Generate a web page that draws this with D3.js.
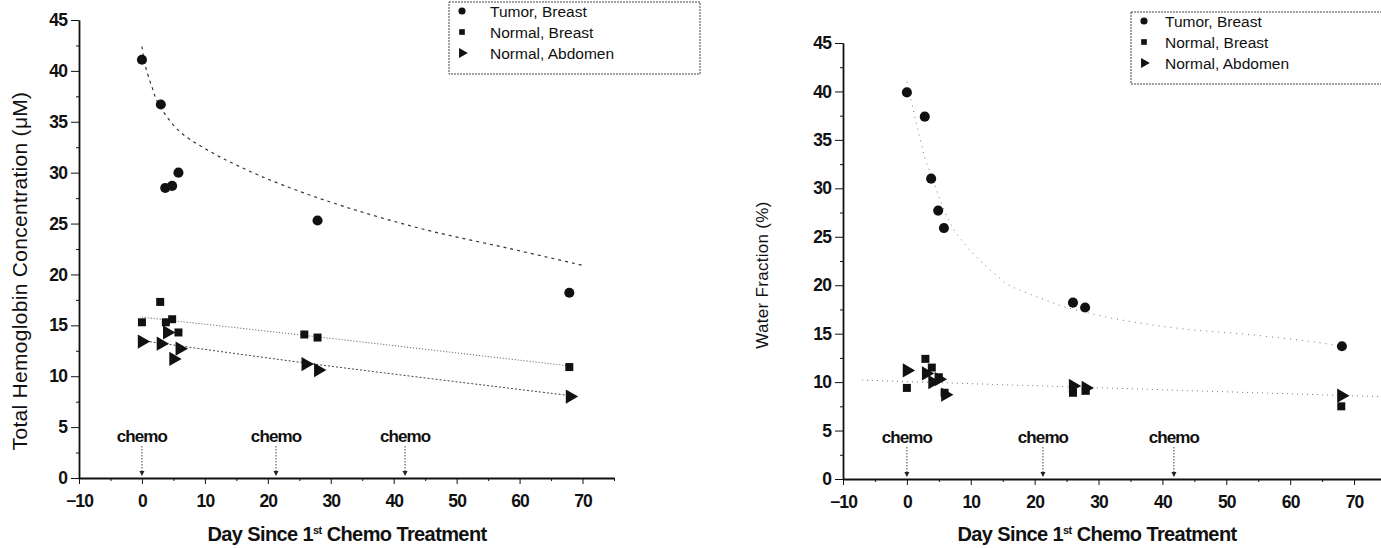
<!DOCTYPE html>
<head>
  <meta charset="utf-8">
  <script src="https://d3js.org/d3.v7.min.js"></script>
  <style>
    body { margin:0; background:#fff; }
    text { font-family: "Liberation Sans", Arial, sans-serif; fill:#111; }
  </style>
</head>

<body>
  <script>
    var width = 1381,
        height = 548;

    // series names
    var seriesNames = ['Tumor, Breast', 'Normal, Breast', 'Normal, Abdomen'];

    // left panel: total hemoglobin (uM)
    var hbDays = {
      tumor:   [0, 3, 3.7, 4.8, 5.8, 27.9, 67.9],
      breast:  [0, 2.9, 3.8, 4.8, 5.8, 25.8, 27.9, 67.9],
      abdomen: [0, 3, 4, 5, 6, 26, 28, 68]
    };
    var hbValues = {
      tumor:   [41.1, 36.7, 28.5, 28.7, 30.0, 25.3, 18.2],
      breast:  [15.3, 17.3, 15.3, 15.6, 14.3, 14.1, 13.8, 10.9],
      abdomen: [13.4, 13.2, 14.3, 11.7, 12.7, 11.2, 10.6, 8.0]
    };
    // fitted trend curves [day, value]
    var hbFitTumor   = [[0,42.4],[0.5,40.6],[1.6,38.4],[2.6,36.8],[5.9,34.1],[10.2,32.3],[15.5,30.6],[22.3,28.8],[32.5,26.6],[45,24.4],[58,22.6],[70,20.9]];
    var hbFitBreast  = [[0,15.8],[26,14.0],[68,11.0]];
    var hbFitAbdomen = [[0,13.5],[26,11.3],[68,8.1]];

    // right panel: water fraction (%)
    var waterDays = {
      tumor:   [0, 2.8, 3.8, 4.9, 5.8, 26, 27.9, 68.1],
      breast:  [0, 2.9, 3.9, 5, 5.9, 26, 28, 68],
      abdomen: [0, 3, 4, 5, 6, 26, 28, 68]
    };
    var waterValues = {
      tumor:   [39.9, 37.4, 31.0, 27.7, 25.9, 18.2, 17.7, 13.7],
      breast:  [9.4, 12.4, 11.5, 10.5, 8.9, 8.9, 9.1, 7.5],
      abdomen: [11.2, 10.9, 10.0, 10.3, 8.7, 9.6, 9.4, 8.6]
    };
    var waterFitTumor  = [[0,41],[1,38.1],[2,35.3],[2.8,33.2],[3.8,31.4],[5.2,28.8],[7.2,25.9],[10.6,23.1],[14.6,20.7],[16,20.0],[22.4,18.3],[25,17.7],[32.9,16.5],[43.2,15.5],[53.7,14.9],[64.2,14.1],[68,13.7]];
    var waterFitNormal = [[-7,10.2],[26,9.5],[74,8.5]];

    // chemo treatment days
    var chemoDays = [0, 21.3, 41.8];

    var xMajor = [-10, 0, 10, 20, 30, 40, 50, 60, 70];
    var xMinor = [-5, 5, 15, 25, 35, 45, 55, 65, 75];
    var yMajor = [0, 5, 10, 15, 20, 25, 30, 35, 40, 45];
    var yMinor = [2.5, 7.5, 12.5, 17.5, 22.5, 27.5, 32.5, 37.5, 42.5];

    var svg = d3.select("body").append("svg")
      .attr("width", width)
      .attr("height", height);

    function zip(xs, ys) {
      return xs.map(function(x, i) { return [x, ys[i]]; });
    }

    var symbols = [d3.symbolCircle, d3.symbolSquare, d3.symbolTriangle];
    var symSize = [80, 64, 88];

    function marker(g, k, x, y, scale) {
      var s = scale || 1;
      g.append('path')
        .attr('d', d3.symbol().type(symbols[k]).size(symSize[k] * s)())
        .attr('transform', 'translate(' + x + ',' + y + ')' + (k == 2 ? ' rotate(90)' : ''))
        .attr('fill', '#111');
    }

    function panel(cfg) {
      var x = d3.scaleLinear().domain([-10, 75]).range(cfg.xr);
      var y = d3.scaleLinear().domain([0, 45]).range(cfg.yr);
      var g = svg.append('g');

      // axes
      var tickFont = function(sel) {
        sel.selectAll('text')
          .style('font-size', '17.5px')
          .style('font-weight', 'bold')
          .style('letter-spacing', '-0.9px')
          .attr('fill', '#111');
        sel.selectAll('line, path').attr('stroke', '#111');
      };
      g.append('g')
        .attr('transform', 'translate(0,' + cfg.yr[0] + ')')
        .call(d3.axisBottom(x).tickValues(xMinor).tickSize(3).tickSizeOuter(0).tickFormat(''))
        .call(tickFont);
      g.append('g')
        .attr('transform', 'translate(0,' + cfg.yr[0] + ')')
        .call(d3.axisBottom(x).tickValues(xMajor).tickSize(6).tickSizeOuter(0).tickPadding(11))
        .call(tickFont)
        .select('.domain').attr('stroke-width', 1.8);
      g.append('g')
        .attr('transform', 'translate(' + cfg.xr[0] + ',0)')
        .call(d3.axisLeft(y).tickValues(yMinor).tickSize(3).tickSizeOuter(0).tickFormat(''))
        .call(tickFont);
      g.append('g')
        .attr('transform', 'translate(' + cfg.xr[0] + ',0)')
        .call(d3.axisLeft(y).tickValues(yMajor).tickSize(8).tickSizeOuter(0).tickPadding(4))
        .call(tickFont)
        .select('.domain').attr('stroke-width', 1.8);

      // trend curves
      var line = d3.line().curve(d3.curveCatmullRom.alpha(0.5))
        .x(function(d) { return x(d[0]); })
        .y(function(d) { return y(d[1]); });
      cfg.fits.forEach(function(f) {
        g.append('path')
          .attr('d', line(f.pts))
          .attr('fill', 'none')
          .attr('stroke', f.color)
          .attr('stroke-width', f.w)
          .attr('stroke-dasharray', f.dash);
      });

      // points
      cfg.series.forEach(function(s, k) {
        s.forEach(function(d) { marker(g, k, x(d[0]), y(d[1])); });
      });

      // chemo markers
      chemoDays.forEach(function(day) {
        var cx = x(day);
        g.append('line')
          .attr('x1', cx).attr('x2', cx)
          .attr('y1', cfg.yr[0] - 32).attr('y2', cfg.yr[0] - 3)
          .attr('stroke', '#444').attr('stroke-width', 1)
          .attr('stroke-dasharray', '1.5,1.5');
        g.append('path')
          .attr('d', 'M' + (cx - 2.5) + ',' + (cfg.yr[0] - 7) + 'L' + (cx + 2.5) + ',' + (cfg.yr[0] - 7) + 'L' + cx + ',' + (cfg.yr[0] - 2) + 'Z')
          .attr('fill', '#222');
        g.append('text')
          .attr('x', cx).attr('y', cfg.yr[0] - 36)
          .attr('text-anchor', 'middle')
          .style('font-size', '17px')
          .style('font-weight', 'bold')
          .style('letter-spacing', '-0.9px')
          .text('chemo');
      });

      // axis titles
      g.append('text')
        .attr('transform', 'translate(' + cfg.ytx + ',' + cfg.yty + ') rotate(-90)')
        .attr('text-anchor', 'middle')
        .style('font-size', cfg.yfs)
        .style('letter-spacing', '0.3px')
        .text(cfg.ytitle);
      var xt = g.append('text')
        .attr('x', cfg.xtx).attr('y', 541)
        .attr('text-anchor', 'middle')
        .style('font-size', '20px')
        .style('font-weight', 'bold')
        .style('letter-spacing', '-0.6px');
      xt.append('tspan').text('Day Since 1');
      xt.append('tspan').attr('dy', -7).style('font-size', '11px').text('st');
      xt.append('tspan').attr('dy', 7).text(' Chemo Treatment');

      // legend
      var lg = g.append('g').attr('transform', 'translate(' + cfg.lx + ',' + cfg.ly + ')');
      lg.append('rect')
        .attr('x', 0).attr('y', 0).attr('width', cfg.lw).attr('height', 72)
        .attr('fill', 'none').attr('stroke', '#444').attr('stroke-width', 1)
        .attr('stroke-dasharray', '2,1');
      seriesNames.forEach(function(name, k) {
        marker(lg, k, 13, 9 + k * 21, 0.5);
        lg.append('text')
          .attr('x', cfg.ltx).attr('y', 15 + k * 21)
          .style('font-size', '15.5px')
          .text(name);
      });
    }

    panel({
      xr: [79, 614], yr: [478, 20],
      series: [zip(hbDays.tumor, hbValues.tumor), zip(hbDays.breast, hbValues.breast), zip(hbDays.abdomen, hbValues.abdomen)],
      fits: [
        { pts: hbFitTumor, color: '#333', w: 1.2, dash: '3,4' },
        { pts: hbFitBreast, color: '#555', w: 1, dash: '1,2' },
        { pts: hbFitAbdomen, color: '#444', w: 1, dash: '2,2' }
      ],
      ytitle: 'Total Hemoglobin Concentration (\u03bcM)', ytx: 27, yty: 271, yfs: '21px',
      xtx: 347,
      lx: 449, ly: 2, lw: 251, ltx: 41
    });

    panel({
      xr: [843, 1386], yr: [479, 43],
      series: [zip(waterDays.tumor, waterValues.tumor), zip(waterDays.breast, waterValues.breast), zip(waterDays.abdomen, waterValues.abdomen)],
      fits: [
        { pts: waterFitTumor, color: '#777', w: 1, dash: '1,5' },
        { pts: waterFitNormal, color: '#777', w: 1, dash: '1,4' }
      ],
      ytitle: 'Water Fraction (%)', ytx: 768, yty: 275, yfs: '17px',
      xtx: 1097,
      lx: 1131, ly: 12, lw: 262, ltx: 34
    });
  </script>
</body>
